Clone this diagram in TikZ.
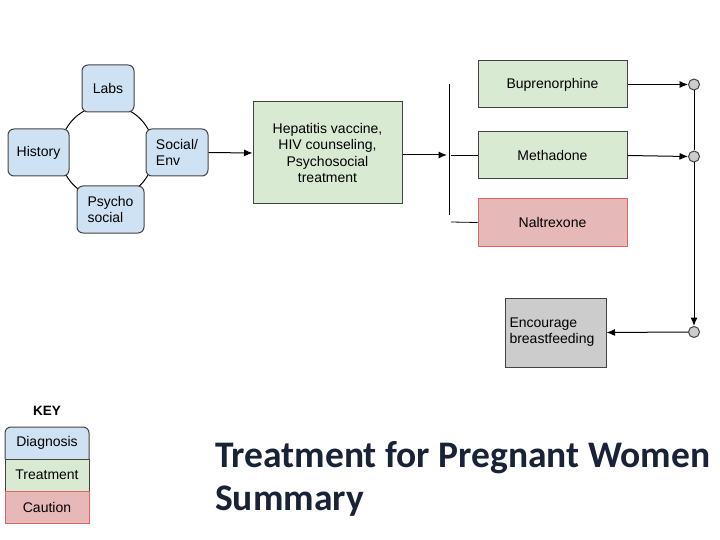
\documentclass[tikz,border=0pt]{standalone}
\usepackage{fontspec}
\setmainfont{Liberation Sans}
\newfontfamily\titlefont{Carlito}
\usetikzlibrary{arrows.meta}
\definecolor{diagblue}{HTML}{CFE2F3}
\definecolor{treatgreen}{HTML}{D9EAD3}
\definecolor{cautionred}{HTML}{E6B8B7}
\definecolor{cautionedge}{HTML}{E06666}
\definecolor{edgegray}{HTML}{434343}
\definecolor{boxgray}{HTML}{CCCCCC}
\definecolor{titleblue}{HTML}{1A2238}
\tikzset{
  base/.style={draw=edgegray, line width=1pt, font=\fontsize{14}{16}\selectfont, inner sep=0pt},
  diag/.style={base, fill=diagblue, rounded corners=6pt},
  treat/.style={base, fill=treatgreen},
  caution/.style={base, fill=cautionred, draw=cautionedge},
  conn/.style={line width=1pt, draw=black},
  arr/.style={conn, -{Latex[length=8.5pt,width=7pt]}},
  dot/.style={circle, draw=edgegray, line width=1pt, fill=boxgray, minimum size=11pt, inner sep=0pt},
}
\begin{document}
\begin{tikzpicture}[x=1pt,y=-1pt]
\useasboundingbox (0,0) rectangle (720,540);
% ring
\draw[conn] (107,152) circle (47);
% diagnosis boxes
\node[diag, minimum width=52pt, minimum height=47pt] (labs) at (108,88.5) {Labs};
\node[diag, minimum width=61pt, minimum height=47pt] (hist) at (38.5,152.5) {History};
\node[diag, minimum width=62pt, minimum height=47pt, align=left] (soc) at (177,152.5) {Social/\\Env};
\node[diag, minimum width=67pt, minimum height=47pt, align=left] (psy) at (110.5,209.5) {Psycho\\social};
% treatment box
\node[treat, minimum width=149pt, minimum height=102pt, align=center, font=\fontsize{14}{16.5}\selectfont] (hep) at (327.5,153) {Hepatitis vaccine,\\HIV counseling,\\Psychosocial\\treatment};
\draw[arr] (soc.east) -- (hep.west);
% split
\coordinate (spl) at (447,155);
\draw[arr] (hep.east |- spl) -- (spl);
\draw[conn, line width=0.8pt] (449,84) -- (449,215);
% medication boxes
\node[treat, minimum width=149pt, minimum height=47pt] (bup) at (552.5,84.5) {Buprenorphine};
\node[treat, minimum width=149pt, minimum height=47pt] (met) at (552.5,155.5) {Methadone};
\node[caution, minimum width=149pt, minimum height=47pt] (nal) at (552.5,222.5) {Naltrexone};
\coordinate (splm) at (451,155.5);
\coordinate (spln) at (451,222);
\draw[conn, line width=0.8pt] (splm) -- (met.west);
\draw[conn, line width=0.8pt] (spln) -- (nal.west);
% dots
\node[dot] (d1) at (694,84.5) {};
\node[dot] (d2) at (694,156.5) {};
\node[dot] (d3) at (694,332) {};
\draw[arr] (bup.east) -- (d1.west);
\draw[arr] (met.east) -- (d2.west);
\draw[conn] (d1.south) -- (d2.north);
\draw[arr] (d2.south) -- (d3.north);
% breastfeeding
\node[base, fill=boxgray, minimum width=101pt, minimum height=69pt, align=left, text width=92pt] (brf) at (555.5,332.5) {Encourage\\breastfeeding};
\draw[arr] (d3.west) -- (brf.east);
% key
\node[font=\bfseries\fontsize{13.5}{15}\selectfont] (key) at (47,411) {KEY};
\draw[draw=edgegray, line width=1pt, fill=diagblue, rounded corners=6pt] (5,459) -- (5,427) -- (89,427) -- (89,459);
\draw[draw=edgegray, line width=1pt] (5,459) -- (89,459);
\node[font=\fontsize{14}{16}\selectfont] (kd) at (47,443) {Diagnosis};
\node[treat, minimum width=84pt, minimum height=32pt] (kt) at (47,475) {Treatment};
\node[caution, minimum width=84pt, minimum height=32pt] (kc) at (47,507) {Caution};
% title
\node[anchor=base west, font=\titlefont\bfseries\fontsize{37.5}{44}\selectfont, text=titleblue, inner sep=0pt] (t1) at (215,467) {Treatment for Pregnant Women};
\node[anchor=base west, font=\titlefont\bfseries\fontsize{37.5}{44}\selectfont, text=titleblue, inner sep=0pt] (t2) at (215,510) {Summary};
\end{tikzpicture}
\end{document}
